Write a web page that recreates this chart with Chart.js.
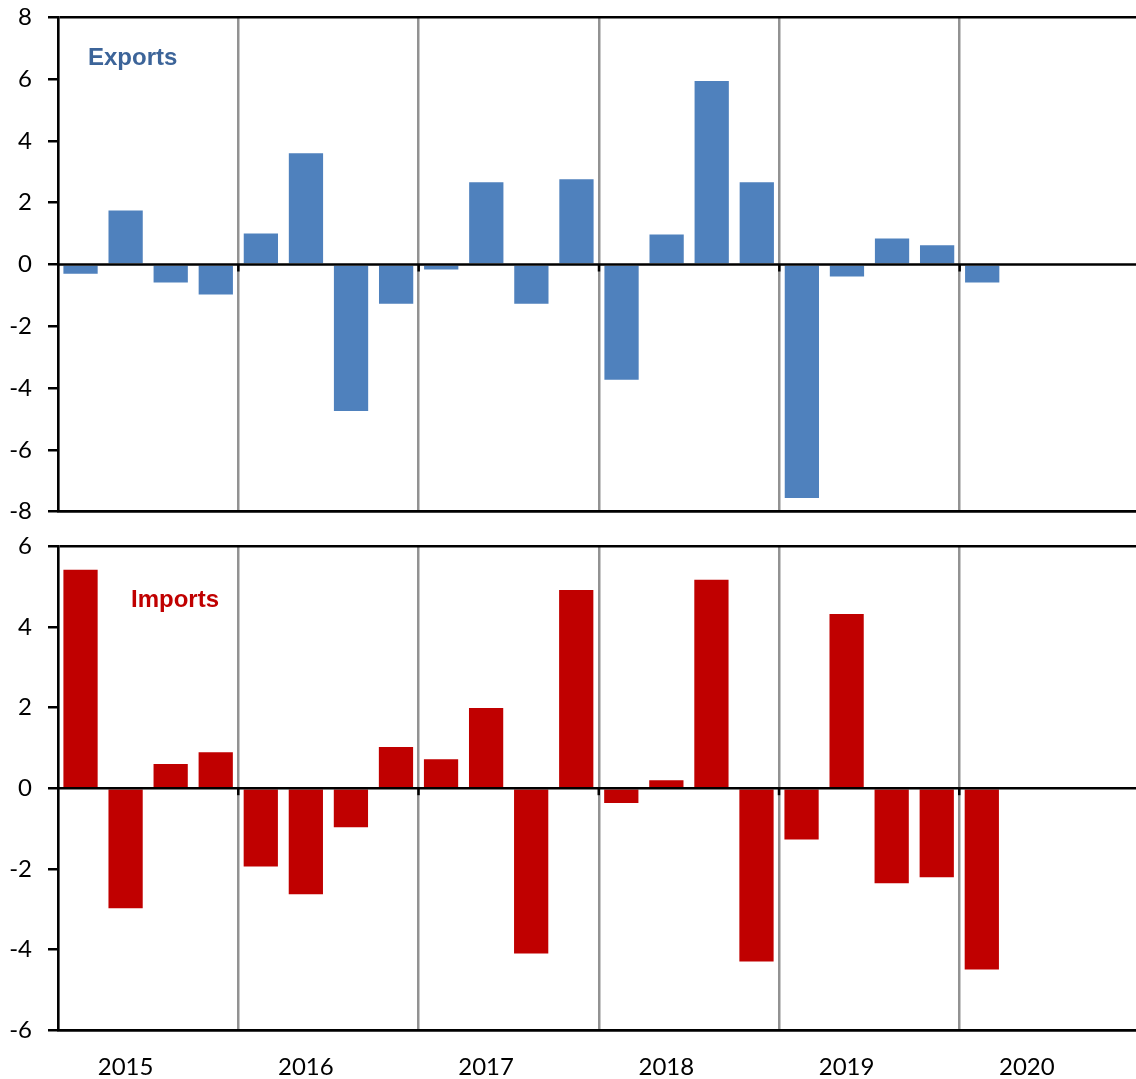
<!DOCTYPE html>
<html>
<head>
<meta charset="utf-8">
<script src="https://cdn.jsdelivr.net/npm/chart.js@4.4.1/dist/chart.umd.min.js"></script>
<style>
  html, body { margin: 0; padding: 0; background: #fff; overflow: hidden; }
  canvas { position: absolute; left: 0; }
  #exportsChart { top: -13px; }
  #importsChart { top: 516px; }
</style>
</head>
<body>
<canvas id="exportsChart" width="1140" height="555"></canvas>
<canvas id="importsChart" width="1140" height="563"></canvas>
<script>
const years = ['2015', '2016', '2017', '2018', '2019', '2020'];
const quarters = years.flatMap(y => ['Q1', 'Q2', 'Q3', 'Q4'].map(q => y + ' ' + q));

// quarterly change, 2015 Q1 .. 2020 Q1
const exportsData = [-0.3, 1.75, -0.58, -0.97, 1.0, 3.6, -4.74, -1.27, -0.16, 2.66, -1.27, 2.76,
  -3.73, 0.97, 5.94, 2.66, -7.56, -0.39, 0.84, 0.62, -0.58];
const importsData = [5.42, -2.98, 0.6, 0.89, -1.94, -2.63, -0.97, 1.02, 0.72, 1.99, -4.1, 4.92,
  -0.37, 0.2, 5.17, -4.3, -1.27, 4.32, -2.36, -2.21, -4.5];

const exportsRange = [-8, 8];
const importsRange = [-6, 6];

const tickFont = { family: 'Lato', size: 24 };

// zero line, little ticks on it at year breaks, and the panel name
const panelDecor = {
  id: 'panelDecor',
  afterDatasetsDraw(chart, args, opts) {
    const { ctx, chartArea, scales: { x, y } } = chart;
    const y0 = y.getPixelForValue(0);
    ctx.save();
    ctx.strokeStyle = '#000';
    ctx.lineWidth = 2.5;
    ctx.beginPath();
    ctx.moveTo(chartArea.left, y0);
    ctx.lineTo(chartArea.right, y0);
    ctx.stroke();
    for (let i = 4; i < quarters.length; i += 4) {
      const xp = (x.getPixelForValue(i - 1) + x.getPixelForValue(i)) / 2;
      ctx.beginPath();
      ctx.moveTo(xp, y0);
      ctx.lineTo(xp, y0 + 7);
      ctx.stroke();
    }
    ctx.font = 'bold 24px "Liberation Sans"';
    ctx.fillStyle = opts.color;
    ctx.textBaseline = 'middle';
    ctx.fillText(opts.text, chartArea.left + opts.dx, chartArea.top + opts.dy);
    ctx.restore();
  }
};

function makePanel(id, data, color, range, label, showYears, padding, xHeight) {
  const [lo, hi] = range;
  return new Chart(document.getElementById(id), {
    type: 'bar',
    data: {
      labels: quarters,
      datasets: [{
        data: data,
        backgroundColor: color,
        barPercentage: 0.76,
        categoryPercentage: 1
      }]
    },
    options: {
      responsive: false,
      animation: false,
      layout: { padding: padding },
      plugins: {
        legend: { display: false },
        tooltip: { enabled: false },
        panelDecor: label
      },
      scales: {
        x: {
          offset: true,
          grid: {
            offset: true,
            drawTicks: false,
            color: c => (c.index % 4 === 0 ? '#929292' : 'rgba(0,0,0,0)'),
            lineWidth: 2.5
          },
          border: { color: '#000', width: 2.5 },
          ticks: {
            display: showYears,
            autoSkip: false,
            maxRotation: 0,
            padding: 23,
            color: '#000',
            font: tickFont,
            callback: (v, i) => (i % 4 === 1 ? years[Math.floor(i / 4)] : '')
          },
          afterFit: s => { s.height = xHeight; }
        },
        y: {
          min: lo,
          max: hi,
          ticks: { stepSize: 2, padding: 16, color: '#000', font: tickFont },
          grid: {
            color: c => (c.tick.value === lo || c.tick.value === hi ? '#000' : 'rgba(0,0,0,0)'),
            lineWidth: 2.5,
            tickColor: '#000',
            tickLength: 10,
            tickWidth: 2.5
          },
          border: { color: '#000', width: 2.5 },
          afterFit: s => { s.width = 58; }
        }
      }
    },
    plugins: [panelDecor]
  });
}

makePanel('exportsChart', exportsData, '#4F81BD', exportsRange,
  { text: 'Exports', color: '#3C6499', dx: 30, dy: 41 }, false,
  { top: 5, bottom: 7, left: 0, right: 0 }, 0);

makePanel('importsChart', importsData, '#C00000', importsRange,
  { text: 'Imports', color: '#C00000', dx: 73, dy: 54 }, true,
  { top: 4, bottom: 0, left: 0, right: 0 }, 49);
</script>
</body>
</html>
